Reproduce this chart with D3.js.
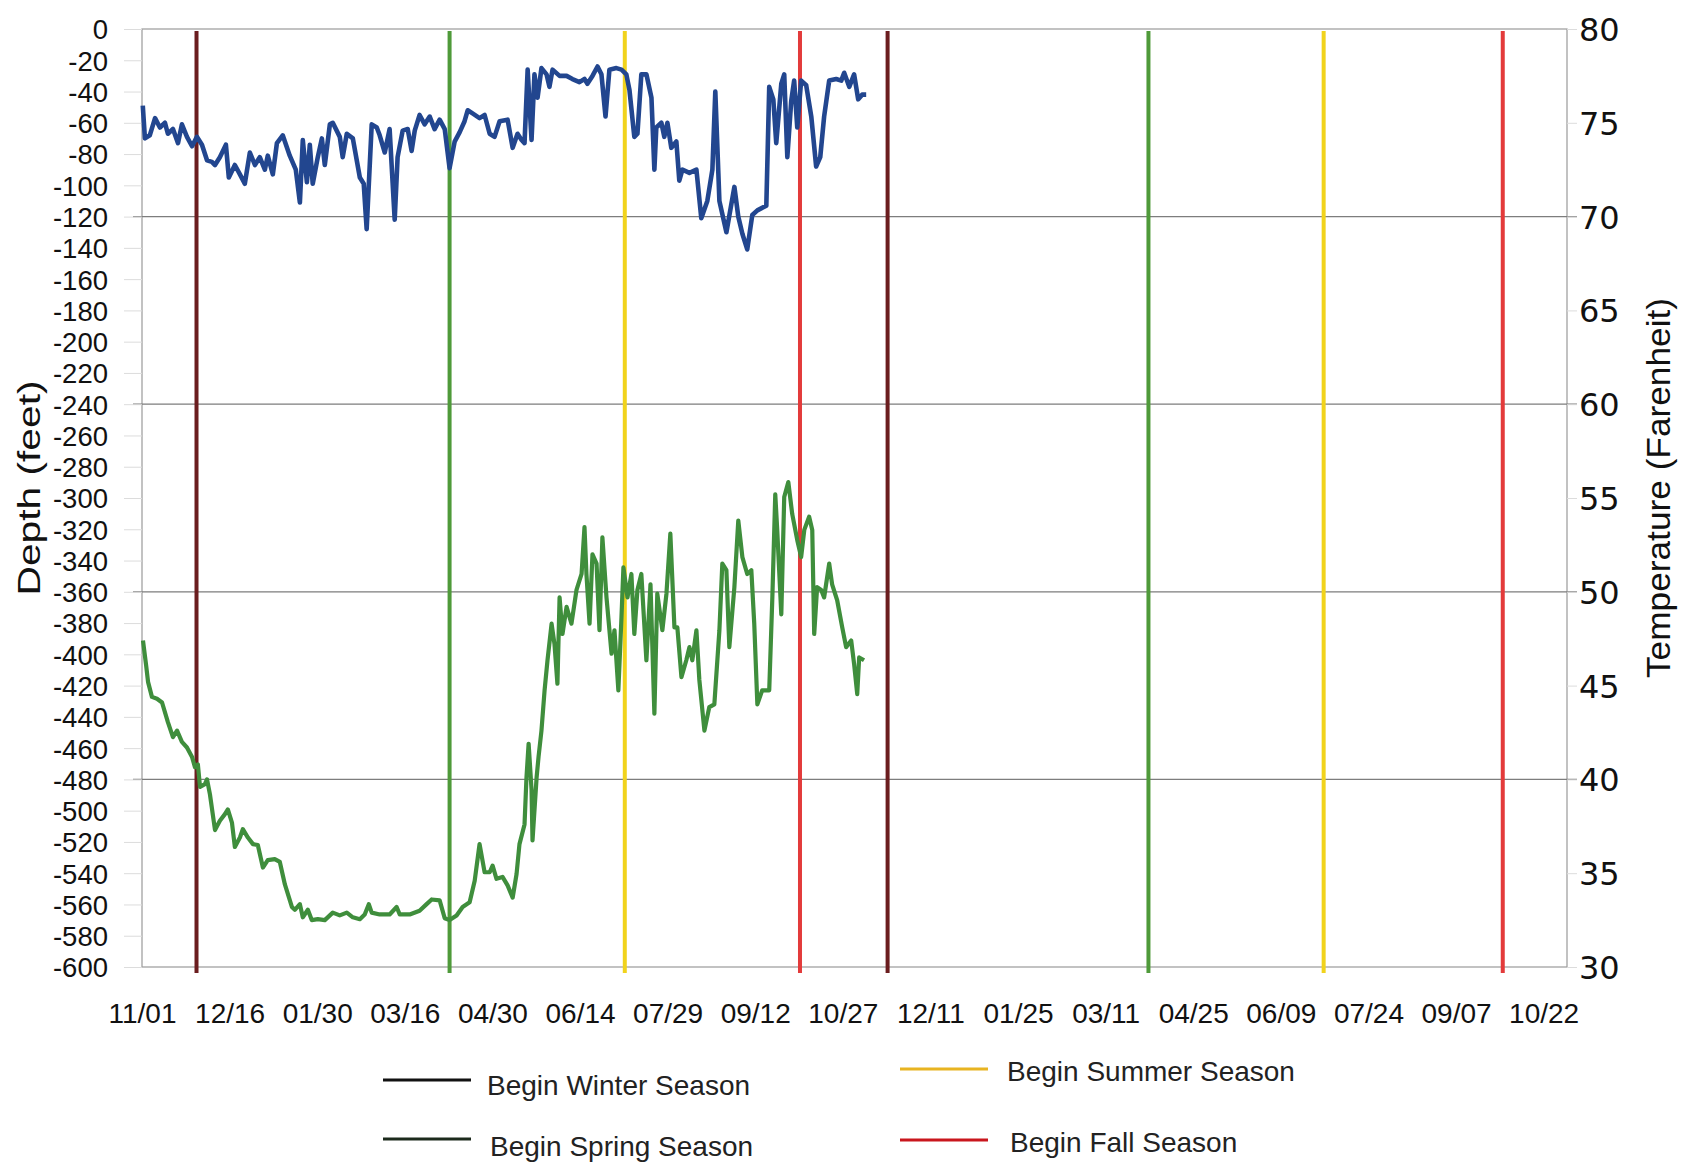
<!DOCTYPE html>
<html>
<head>
<meta charset="utf-8">
<script src="https://cdn.jsdelivr.net/npm/d3@7"></script>
<style>
  html, body { margin: 0; padding: 0; background: #fff; }
  svg { display: block; font-family: 'Liberation Sans', Arial, sans-serif; }
</style>
</head>
<body>
<div id="chart"></div>
<script>
// ---- data (days after 11/01, value) ----
const START_DATE = '2009-11-01';
const END_DATE = '2011-11-03';

// depth of the blue series, feet
const depthSeries = [
  [0.4,-49],[1.5,-70],[4,-68],[6.7,-57],[9.2,-63],[11.8,-60],[13.3,-67],[15.9,-64],[18.5,-73],[20.5,-61],
  [23.1,-69],[25.7,-75],[28.2,-69],[30.8,-74],[33.4,-84],[35.9,-85],[37.5,-87],[40.0,-82],[43.1,-74],[44.6,-95],
  [47.7,-87],[50.3,-93],[52.8,-99],[55.4,-79],[58.0,-87],[60.5,-82],[63.1,-90],[64.6,-81],[67.2,-93],[69.3,-73],
  [72.3,-68],[75.9,-81],[79.0,-90],[81.1,-111],[82.6,-71],[84.7,-98],[86.2,-74],[87.7,-99],[90.3,-82],[92.4,-70],
  [93.9,-87],[96.5,-61],[98.0,-60],[101.6,-69],[103.1,-82],[105.2,-67],[108.3,-70],[111.9,-95],[113.9,-99],[115.4,-128],
  [118.0,-61],[120.6,-63],[122.1,-68],[124.7,-79],[127.2,-64],[129.8,-122],[131.3,-82],[133.9,-65],[136.5,-64],[138.5,-78],
  [140.1,-65],[142.6,-55],[145.2,-61],[147.8,-56],[150.3,-64],[152.9,-58],[155.5,-64],[158.0,-89],[160.6,-72],[163.2,-66],
  [165.7,-59],[167.3,-52],[169.8,-54],[173.4,-57],[176.0,-55],[178.6,-67],[181.1,-69],[183.7,-59],[187.8,-58],[190.4,-76],
  [192.9,-67],[195.0,-71],[196.5,-73],[198.1,-26],[200.1,-71],[201.6,-29],[203.2,-44],[205.2,-25],[207.8,-29],[209.3,-37],
  [210.9,-26],[214.5,-30],[218.1,-30],[221.1,-32],[224.7,-34],[227.3,-32],[228.8,-35],[231.4,-30],[234.0,-24],[236.0,-29],
  [238.1,-56],[240.1,-26],[243.7,-25],[246.3,-26],[248.8,-29],[250.4,-39],[252.9,-69],[254.5,-67],[256.5,-29],[259.1,-29],
  [261.7,-44],[263.2,-90],[264.2,-63],[266.8,-60],[268.3,-69],[269.9,-60],[271.9,-76],[274.5,-72],[276.0,-97],[277.6,-90],
  [281.2,-92],[284.8,-90],[287.3,-121],[290.4,-110],[293.0,-90],[294.5,-40],[296.6,-110],[300.2,-130],[304.3,-101],[306.3,-120],
  [308.4,-131],[310.9,-141],[313.5,-119],[316.1,-116],[320.7,-113],[322.2,-37],[324.3,-45],[325.8,-73],[328.4,-35],[329.9,-29],
  [331.5,-82],[333.5,-46],[335.0,-33],[336.6,-63],[338.6,-33],[341.2,-36],[343.8,-56],[346.3,-88],[348.4,-82],[350.4,-56],
  [353.0,-33],[356.6,-32],[359.2,-33],[360.7,-28],[363.3,-37],[365.8,-29],[367.9,-45],[369.9,-42],[372.0,-42]
];

// temperature of the green series, Farenheit
const tempSeries = [
  [0.5,47.4],[2.1,46.1],[3.1,45.2],[5.1,44.4],[7.7,44.3],[10.3,44.1],[13.3,43.05],[15.9,42.25],[18.0,42.6],[20.5,42.0],
  [23.1,41.7],[25.7,41.2],[27.2,40.65],[28.7,40.8],[29.8,39.6],[32.3,39.75],[33.4,40.0],[34.9,39.2],[37.5,37.3],[40.0,37.8],
  [42.6,38.15],[44.1,38.4],[46.2,37.7],[47.7,36.4],[50.3,36.9],[51.8,37.35],[54.4,36.9],[57.0,36.55],[59.5,36.5],[62.1,35.3],
  [64.6,35.7],[68.2,35.75],[70.8,35.6],[73.4,34.4],[77.0,33.2],[78.5,33.05],[81.1,33.35],[82.6,32.65],[85.2,33.05],[87.2,32.5],
  [90.3,32.55],[93.9,32.5],[98.0,32.9],[101.6,32.75],[105.2,32.9],[108.3,32.65],[111.9,32.55],[114.4,32.8],[116.5,33.35],[118.0,32.9],
  [122.1,32.8],[127.2,32.8],[130.8,33.2],[132.4,32.8],[137.5,32.8],[142.6,33.0],[146.2,33.35],[148.8,33.6],[152.9,33.55],[155.5,32.6],
  [158.0,32.5],[161.6,32.75],[164.7,33.2],[168.3,33.45],[170.9,34.6],[173.4,36.55],[176.0,35.05],[178.6,35.05],[180.1,35.4],[182.1,34.7],
  [185.2,34.8],[187.8,34.35],[190.4,33.7],[192.4,34.95],[193.9,36.55],[196.5,37.6],[197.5,40.1],[198.6,41.9],[200.1,39.45],[200.6,36.75],
  [202.7,40.1],[203.7,41.2],[205.2,42.6],[206.8,44.75],[208.3,46.35],[210.4,48.3],[211.9,47.2],[213.4,45.1],[214.5,49.7],[216.0,47.75],
  [218.1,49.2],[220.6,48.3],[223.2,50.1],[225.8,50.95],[227.3,53.45],[228.3,50.95],[229.9,48.3],[231.4,52.0],[233.5,51.5],[235.0,47.95],
  [236.5,52.9],[238.6,49.7],[241.2,46.7],[242.7,47.95],[244.7,44.75],[246.3,48.65],[247.3,51.3],[249.4,49.7],[251.4,50.95],[252.9,47.75],
  [254.5,50.1],[256.5,50.95],[259.1,46.35],[261.2,50.4],[263.2,43.5],[264.7,49.9],[267.3,47.95],[269.4,49.9],[271.4,53.1],[273.5,48.1],
  [275.0,48.1],[277.1,45.45],[279.6,46.35],[281.2,47.05],[282.7,46.35],[284.8,47.95],[286.3,45.3],[288.9,42.6],[291.4,43.85],[294.0,44.0],
  [296.6,47.95],[298.1,51.5],[300.2,51.15],[301.7,47.05],[304.3,50.25],[306.3,53.8],[308.4,51.85],[310.9,50.95],[313.0,51.15],[314.5,48.3],
  [316.1,44.0],[318.6,44.75],[322.2,44.75],[323.8,49.7],[325.3,55.2],[326.3,53.3],[328.4,48.8],[329.9,55.05],[332.0,55.85],[334.0,54.15],
  [336.6,52.75],[338.6,51.85],[340.2,53.3],[342.7,54.0],[344.3,53.3],[345.3,47.75],[346.8,50.25],[348.9,50.1],[350.4,49.7],[353.0,51.5],
  [354.5,50.4],[357.1,49.55],[359.7,48.1],[361.7,47.05],[364.3,47.4],[365.8,46.15],[367.4,44.55],[368.4,46.5],[370.9,46.35]
];

// season start markers
const seasonNames = ['winter', 'spring', 'summer', 'fall', 'winter', 'spring', 'summer', 'fall'];
const seasonDates = ['2009-11-29', '2010-04-08', '2010-07-07', '2010-10-05',
                     '2010-11-19', '2011-04-02', '2011-07-01', '2011-10-01'];

// axis ticks
const xTickDates = ['2009-11-01', '2009-12-16', '2010-01-30', '2010-03-16', '2010-04-30', '2010-06-14',
                    '2010-07-29', '2010-09-12', '2010-10-27', '2010-12-11', '2011-01-25', '2011-03-11',
                    '2011-04-25', '2011-06-09', '2011-07-24', '2011-09-07', '2011-10-22'];
const depthTicks = d3.range(0, -620, -20);
const depthGrid = [-120, -240, -360, -480];
const tempTicks = d3.range(30, 81, 5);

const legendItems = [
  { key: 'winterLegend', label: 'Begin Winter Season' },
  { key: 'springLegend', label: 'Begin Spring Season' },
  { key: 'summerLegend', label: 'Begin Summer Season' },
  { key: 'fallLegend', label: 'Begin Fall Season' }
];

// ---- layout / styles ----
const WIDTH = 1683;
const HEIGHT = 1164;
const PLOT = { left: 142, right: 1567, top: 29, bottom: 967 };
const COLORS = {
  depth: '#22468f',
  temp: '#3f8e3c',
  winter: '#6b1d1f',
  spring: '#4f9a3a',
  summer: '#f1d31c',
  fall: '#e33b3b',
  winterLegend: '#111',
  springLegend: '#1c2a1c',
  summerLegend: '#e8b421',
  fallLegend: '#c9161d'
};
const LEGEND_POS = {
  winterLegend: { x: 383, y: 1080, tx: 487, ty: 1085 },
  springLegend: { x: 383, y: 1139, tx: 490, ty: 1146 },
  summerLegend: { x: 900, y: 1069, tx: 1007, ty: 1071 },
  fallLegend: { x: 900, y: 1140, tx: 1010, ty: 1142 }
};

const parseDate = d3.utcParse('%Y-%m-%d');
const start = parseDate(START_DATE);
const dayToDate = d => new Date(start.getTime() + d * 864e5);

const x = d3.scaleUtc()
  .domain([start, parseDate(END_DATE)])
  .range([PLOT.left, PLOT.right]);
const yDepth = d3.scaleLinear().domain([-600, 0]).range([PLOT.bottom, PLOT.top]);
const yTemp = d3.scaleLinear().domain([30, 80]).range([PLOT.bottom, PLOT.top]);

const svg = d3.select('#chart')
  .append('svg')
    .attr('width', WIDTH)
    .attr('height', HEIGHT);

// plot frame
svg.append('rect')
  .attr('x', PLOT.left)
  .attr('y', PLOT.top)
  .attr('width', PLOT.right - PLOT.left)
  .attr('height', PLOT.bottom - PLOT.top)
  .attr('fill', 'none')
  .attr('stroke', '#9a9a9a')
  .attr('stroke-width', 1.2);

// major gridlines run a little past both edges
svg.append('g')
  .selectAll('line')
  .data(depthGrid)
  .enter()
  .append('line')
    .attr('x1', PLOT.left - 9)
    .attr('x2', PLOT.right + 10)
    .attr('y1', d => yDepth(d))
    .attr('y2', d => yDepth(d))
    .attr('stroke', '#7d7d7d')
    .attr('stroke-width', 1.2);

// left axis
const leftAxis = svg.append('g')
  .attr('transform', `translate(${PLOT.left}, 0)`)
  .call(d3.axisLeft(yDepth)
    .tickValues(depthTicks)
    .tickSize(18)
    .tickPadding(16)
    .tickFormat(d => String(d)));
leftAxis.select('.domain').remove();
leftAxis.selectAll('.tick line').attr('stroke', '#dcdcdc');
leftAxis.selectAll('.tick text')
  .attr('fill', '#111')
  .style('font-size', '27.5px')
  .attr('dy', '0.36em');

// right axis
const rightAxis = svg.append('g')
  .attr('transform', `translate(${PLOT.right}, 0)`)
  .call(d3.axisRight(yTemp)
    .tickValues(tempTicks)
    .tickSize(10)
    .tickPadding(2));
rightAxis.select('.domain').remove();
rightAxis.selectAll('.tick line').attr('stroke', '#dcdcdc');
rightAxis.selectAll('.tick text')
  .attr('fill', '#111')
  .style('font-family', "'DejaVu Sans', sans-serif")
  .style('font-size', '32px')
  .attr('dy', '0.36em');

// bottom axis
const bottomAxis = svg.append('g')
  .attr('transform', `translate(0, ${PLOT.bottom})`)
  .call(d3.axisBottom(x)
    .tickValues(xTickDates.map(parseDate))
    .tickSize(0)
    .tickPadding(36)
    .tickFormat(d3.utcFormat('%m/%d')));
bottomAxis.select('.domain').remove();
bottomAxis.selectAll('.tick text')
  .attr('fill', '#111')
  .style('font-size', '28px');

// season start lines
svg.append('g')
  .selectAll('line')
  .data(seasonDates.map((d, i) => ({ date: parseDate(d), season: seasonNames[i] })))
  .enter()
  .append('line')
    .attr('x1', d => x(d.date))
    .attr('x2', d => x(d.date))
    .attr('y1', PLOT.top + 2)
    .attr('y2', PLOT.bottom + 6)
    .attr('stroke', d => COLORS[d.season])
    .attr('stroke-width', 4);

// data lines
const depthLine = d3.line()
  .x(d => x(dayToDate(d[0])))
  .y(d => yDepth(d[1]));
const tempLine = d3.line()
  .x(d => x(dayToDate(d[0])))
  .y(d => yTemp(d[1]));

svg.append('path')
  .datum(tempSeries)
  .attr('d', tempLine)
  .attr('fill', 'none')
  .attr('stroke', COLORS.temp)
  .attr('stroke-width', 4.2)
  .attr('stroke-linejoin', 'round');

svg.append('path')
  .datum(depthSeries)
  .attr('d', depthLine)
  .attr('fill', 'none')
  .attr('stroke', COLORS.depth)
  .attr('stroke-width', 4.6)
  .attr('stroke-linejoin', 'round');

// axis titles
svg.append('text')
  .attr('transform', `translate(40, 488) rotate(-90)`)
  .attr('text-anchor', 'middle')
  .attr('textLength', 215)
  .attr('lengthAdjust', 'spacingAndGlyphs')
  .style('font-size', '32px')
  .attr('fill', '#111')
  .text('Depth (feet)');

svg.append('text')
  .attr('transform', `translate(1670, 488) rotate(-90)`)
  .attr('text-anchor', 'middle')
  .attr('textLength', 380)
  .attr('lengthAdjust', 'spacingAndGlyphs')
  .style('font-size', '33px')
  .attr('fill', '#111')
  .text('Temperature (Farenheit)');

// legend
const legend = svg.append('g')
  .selectAll('g')
  .data(legendItems)
  .enter()
  .append('g');
legend.append('line')
  .attr('x1', d => LEGEND_POS[d.key].x)
  .attr('x2', d => LEGEND_POS[d.key].x + 88)
  .attr('y1', d => LEGEND_POS[d.key].y)
  .attr('y2', d => LEGEND_POS[d.key].y)
  .attr('stroke', d => COLORS[d.key])
  .attr('stroke-width', 3);
legend.append('text')
  .attr('x', d => LEGEND_POS[d.key].tx)
  .attr('y', d => LEGEND_POS[d.key].ty)
  .attr('dy', '0.36em')
  .style('font-size', '28px')
  .attr('fill', '#222')
  .text(d => d.label);
</script>
</body>
</html>
